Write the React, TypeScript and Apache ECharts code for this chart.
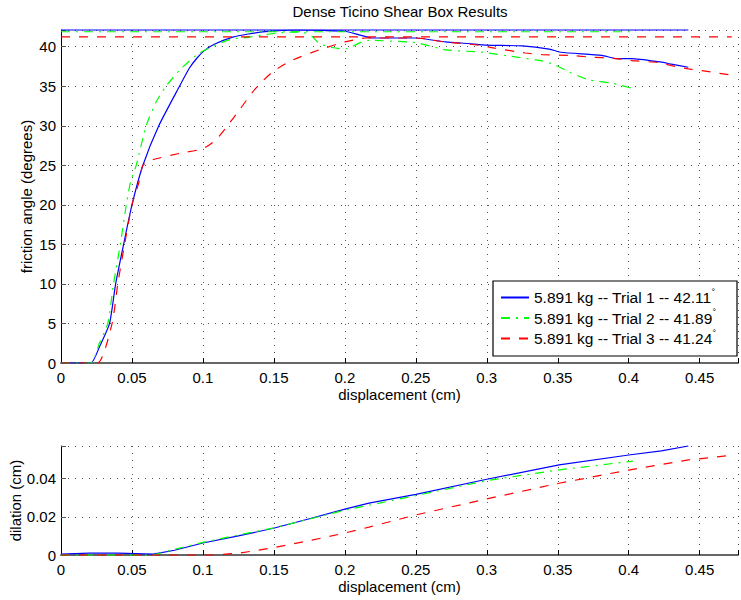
import React, { useEffect, useRef } from 'react';
import * as echarts from 'echarts';

const TITLE = 'Dense Ticino Shear Box Results';
const X_NAME = 'displacement (cm)';
const Y_TOP_NAME = 'friction angle (degrees)';
const Y_BOTTOM_NAME = 'dilation (cm)';

const trialNames = [
  '5.891 kg -- Trial 1 -- 42.11',
  '5.891 kg -- Trial 2 -- 41.89',
  '5.891 kg -- Trial 3 -- 41.24',
];
const trialColors = ['#0000ff', '#00ff00', '#ff0000'];
const maxFriction = [42.11, 41.89, 41.24];

// Friction angle (degrees) vs displacement (cm)
const t1AngleX = [0, 0.021, 0.027, 0.0342, 0.0385, 0.0441, 0.05, 0.0577, 0.0689, 0.0835, 0.0905, 0.096, 0.101, 0.108, 0.121, 0.132, 0.144, 0.165, 0.185, 0.2, 0.21, 0.219, 0.25, 0.271, 0.287, 0.3, 0.325, 0.344, 0.352, 0.381, 0.391, 0.402, 0.421, 0.43, 0.442];
const t1Angle = [0, 0, 2, 5, 10, 15, 20, 25, 30, 35, 37.3, 38.6, 39.5, 40.3, 41.2, 41.6, 41.9, 42.11, 42.05, 41.95, 41.5, 41.1, 41.1, 40.6, 40.4, 40.2, 40.1, 39.7, 39.3, 38.9, 38.5, 38.5, 38.1, 37.8, 37.4];

const t2AngleX = [0, 0.021, 0.027, 0.033, 0.037, 0.0418, 0.046, 0.049, 0.053, 0.06, 0.067, 0.074, 0.085, 0.0975, 0.11, 0.121, 0.128, 0.151, 0.169, 0.177, 0.182, 0.191, 0.2, 0.212, 0.217, 0.25, 0.271, 0.297, 0.32, 0.339, 0.348, 0.358, 0.372, 0.388, 0.403];
const t2Angle = [0, 0, 2.5, 5, 10, 15, 20, 22.9, 25, 30, 33, 35, 37.3, 39.2, 40.3, 41, 41.1, 41.7, 41.89, 41.3, 40.4, 39.9, 39.7, 40.6, 40.8, 40.5, 39.6, 39.3, 38.7, 38.2, 37.7, 36.8, 35.8, 35.4, 34.7];

const t3AngleX = [0, 0.0256, 0.036, 0.04, 0.0448, 0.05, 0.055, 0.0577, 0.0647, 0.0835, 0.1, 0.109, 0.116, 0.1257, 0.137, 0.149, 0.163, 0.182, 0.2, 0.215, 0.25, 0.27, 0.294, 0.306, 0.327, 0.339, 0.358, 0.372, 0.391, 0.405, 0.421, 0.43, 0.442, 0.454, 0.4726];
const t3Angle = [0, 0, 5, 10, 15, 20, 22.9, 25, 25.7, 26.5, 27.1, 28.2, 29.7, 32, 34.7, 36.8, 38.3, 39.6, 40.6, 41.1, 41.1, 40.6, 40.2, 39.8, 39.2, 39.0, 38.9, 38.7, 38.5, 38.2, 38.0, 37.6, 37.2, 36.9, 36.4];

// Dilation (cm) vs displacement (cm)
const t1DilX = [0, 0.02, 0.04, 0.065, 0.08, 0.1, 0.125, 0.149, 0.175, 0.2, 0.217, 0.25, 0.3, 0.351, 0.4, 0.423, 0.442];
const t1Dil = [0.0005, 0.001, 0.001, 0.0005, 0.0025, 0.0063, 0.01, 0.0139, 0.019, 0.024, 0.0272, 0.0318, 0.0397, 0.0472, 0.0524, 0.0545, 0.0571];

const t2DilX = [0, 0.065, 0.08, 0.1, 0.125, 0.15, 0.175, 0.2, 0.25, 0.3, 0.35, 0.403];
const t2Dil = [0, 0, 0.003, 0.0066, 0.0105, 0.0142, 0.0188, 0.0235, 0.0311, 0.039, 0.0445, 0.0492];

const t3DilX = [0, 0.109, 0.126, 0.149, 0.175, 0.2, 0.217, 0.25, 0.3, 0.351, 0.4, 0.442, 0.4726];
const t3Dil = [0, 0, 0.001, 0.0037, 0.0075, 0.0115, 0.0146, 0.021, 0.0294, 0.0376, 0.0445, 0.0498, 0.0522];

const X_MAX = 0.477;
const X_STEP = 0.05;
const ANGLE_MAX = 42.11;
const ANGLE_STEP = 5;
const DIL_MAX = 0.0571;
const DIL_STEP = 0.02;

const angleX = [t1AngleX, t2AngleX, t3AngleX];
const angleY = [t1Angle, t2Angle, t3Angle];
const dilX = [t1DilX, t2DilX, t3DilX];
const dilY = [t1Dil, t2Dil, t3Dil];

const lineTypes: any[] = ['solid', [9, 6, 2, 6], [9, 9]];

const zip = (xs: number[], ys: number[]) => xs.map((x, i) => [x, ys[i]]);

const stepFormatter = (step: number) => (v: number) => {
  const k = v / step;
  if (Math.abs(k - Math.round(k)) > 1e-6) return '';
  const r = Math.round(k) * step;
  return r === 0 ? '0' : String(parseFloat(r.toFixed(4)));
};

const FONT = '"Liberation Sans", Arial, Helvetica, sans-serif';

export default function App() {
  const ref = useRef<HTMLDivElement>(null);

  useEffect(() => {
    if (!ref.current) return;
    const chart = echarts.init(ref.current, undefined, { renderer: 'svg' });

    const commonX = (gridIndex: number) => ({
      type: 'value',
      gridIndex,
      min: 0,
      max: X_MAX,
      interval: X_STEP,
      name: X_NAME,
      nameLocation: 'middle',
      nameGap: 24,
      nameMoveOverlap: false,
      nameTextStyle: { fontSize: 15, color: '#000', fontFamily: FONT },
      axisLine: { show: true, onZero: false, lineStyle: { color: '#666', width: 2 } },
      axisTick: { show: true, inside: true, length: 5, lineStyle: { color: '#000' } },
      axisLabel: { fontSize: 15, color: '#000', margin: 7, fontFamily: FONT, formatter: stepFormatter(X_STEP) },
      splitLine: { show: true, lineStyle: { color: '#555', type: [1, 6], width: 1 } },
    });

    const series: any[] = [];
    trialNames.forEach((name, i) => {
      series.push({
        type: 'line',
        name,
        xAxisIndex: 0,
        yAxisIndex: 0,
        data: zip(angleX[i], angleY[i]),
        symbol: 'none',
        smooth: 0.2,
        lineStyle: { color: trialColors[i], width: 1.2, type: lineTypes[i] },
        itemStyle: { color: trialColors[i] },
        z: 2,
      });
    });
    trialNames.forEach((name, i) => {
      const xs = angleX[i];
      series.push({
        type: 'line',
        name: 'max ' + (i + 1),
        xAxisIndex: 0,
        yAxisIndex: 0,
        data: [[0, maxFriction[i]], [xs[xs.length - 1], maxFriction[i]]],
        symbol: 'none',
        silent: true,
        clip: false,
        lineStyle: { color: trialColors[i], width: 1.2, type: lineTypes[i] },
        z: 2,
      });
    });
    trialNames.forEach((name, i) => {
      series.push({
        type: 'line',
        name,
        xAxisIndex: 1,
        yAxisIndex: 1,
        data: zip(dilX[i], dilY[i]),
        symbol: 'none',
        clip: false,
        lineStyle: { color: trialColors[i], width: 1.2, type: lineTypes[i] },
        itemStyle: { color: trialColors[i] },
        z: 2,
      });
    });

    chart.setOption({
      animation: false,
      backgroundColor: '#fff',
      textStyle: { fontFamily: FONT },
      title: {
        text: TITLE,
        left: 400,
        top: 4,
        textAlign: 'center',
        padding: 0,
        textStyle: { fontSize: 15, fontWeight: 'normal', color: '#000', fontFamily: FONT },
      },
      grid: [
        { left: 61, right: 1, top: 30, height: 333 },
        { left: 61, right: 1, top: 446, height: 109 },
      ],
      xAxis: [commonX(0), commonX(1)],
      yAxis: [
        {
          type: 'value',
          gridIndex: 0,
          min: 0,
          max: ANGLE_MAX,
          interval: ANGLE_STEP,
          name: Y_TOP_NAME,
          nameLocation: 'middle',
          nameGap: 27,
          nameMoveOverlap: false,
          nameTextStyle: { fontSize: 15, color: '#000', fontFamily: FONT },
          axisLine: { show: true, lineStyle: { color: '#000', width: 1 } },
          axisTick: { show: true, inside: true, length: 5, lineStyle: { color: '#555' } },
          axisLabel: { fontSize: 15, color: '#000', margin: 5, fontFamily: FONT, formatter: stepFormatter(ANGLE_STEP) },
          splitLine: { show: true, lineStyle: { color: '#555', type: [1, 6], width: 1 } },
        },
        {
          type: 'value',
          gridIndex: 1,
          min: 0,
          max: DIL_MAX,
          interval: DIL_STEP,
          name: Y_BOTTOM_NAME,
          nameLocation: 'middle',
          nameGap: 38,
          nameMoveOverlap: false,
          nameTextStyle: { fontSize: 15, color: '#000', fontFamily: FONT },
          axisLine: { show: true, lineStyle: { color: '#000', width: 1 } },
          axisTick: { show: true, inside: true, length: 5, lineStyle: { color: '#555' } },
          axisLabel: { fontSize: 15, color: '#000', margin: 5, fontFamily: FONT, formatter: stepFormatter(DIL_STEP) },
          splitLine: { show: true, lineStyle: { color: '#555', type: [1, 6], width: 1 } },
        },
      ],
      legend: {
        data: trialNames,
        orient: 'vertical',
        left: 500,
        top: 287,
        padding: 0,
        itemWidth: 28,
        itemHeight: 14,
        itemGap: 2,
        selectedMode: false,
        itemStyle: { opacity: 0, borderWidth: 0 },
        formatter: (name: string) => name + '{deg|°}',
        textStyle: {
          fontSize: 15.5,
          color: '#000',
          fontFamily: FONT,
          rich: { deg: { fontSize: 9, padding: [0, 0, 12, 0], fontFamily: FONT, color: '#000' } },
        },
        z: 5,
      },
      graphic: [
        {
          type: 'rect',
          shape: { x: 493, y: 281, width: 244, height: 75 },
          style: { fill: '#fff', stroke: '#000', lineWidth: 1.2 },
          z: 3,
          silent: true,
        },
      ],
      series,
    });

    return () => chart.dispose();
  }, []);

  return (
    <div
      ref={ref}
      style={{ position: 'fixed', left: 0, top: 0, width: 741, height: 600, background: '#fff' }}
    />
  );
}
